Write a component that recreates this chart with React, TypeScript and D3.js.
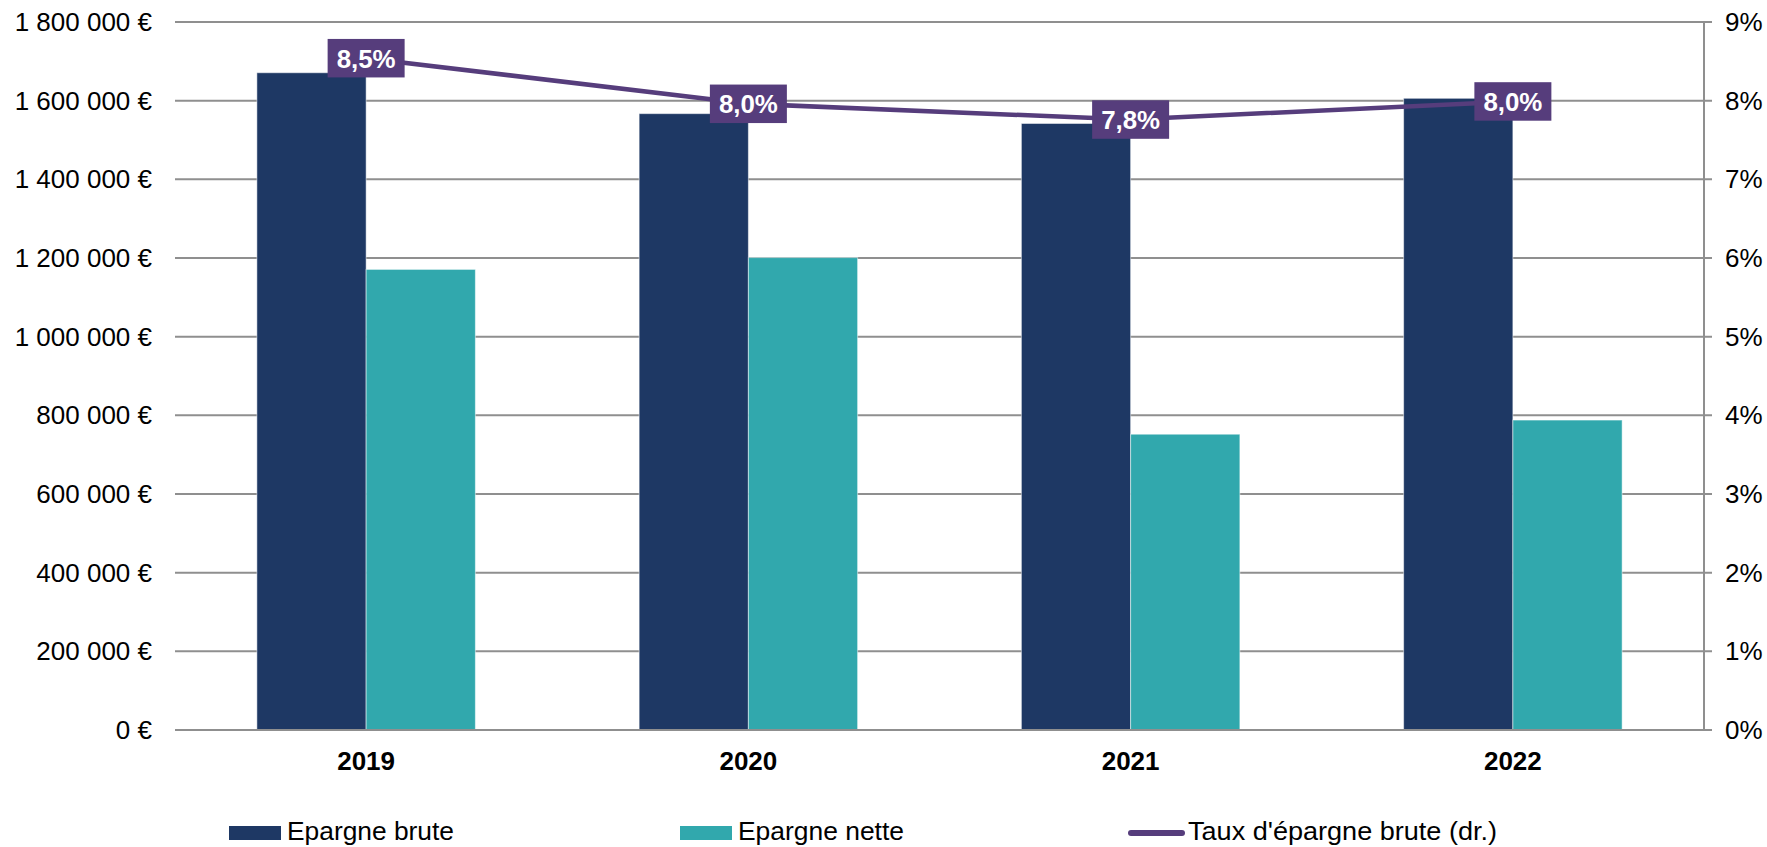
import React from "react";
import * as d3 from "d3";

const categories = ["2019", "2020", "2021", "2022"];
const epargneBrute = [1671000, 1567000, 1542000, 1606000];
const epargneNette = [1171000, 1201000, 752000, 788000];
const tauxBrute = [8.54, 7.96, 7.76, 7.99];
const leftTicks = [0, 200000, 400000, 600000, 800000, 1000000, 1200000, 1400000, 1600000, 1800000];
const rightTicks = [0, 1, 2, 3, 4, 5, 6, 7, 8, 9];
const legendLabels = ["Epargne brute", "Epargne nette", "Taux d'épargne brute (dr.)"];

const W = 1767;
const H = 847;
const FONT = "'Liberation Sans', Arial, sans-serif";
const C_BRUTE = "#1e3864";
const C_NETTE = "#31a8ad";
const C_LINE = "#563d7c";
const C_GRID = "#8f8f8f";

function fmtEuro(v: number) {
  const s = d3.format(",")(v).replace(/,/g, " ");
  return s + " €";
}

export default function App() {
  const left = 175;
  const right = 1704;
  const top = 22;
  const bottom = 730;

  const x0 = d3.scaleBand<string>().domain(categories).range([left, right]).padding(0);
  const bw = x0.bandwidth();
  const group = bw * 0.5716;
  const x1 = d3
    .scaleBand<string>()
    .domain(["brute", "nette"])
    .range([(bw - group) / 2, (bw + group) / 2])
    .padding(0);
  const y = d3.scaleLinear().domain([0, 1800000]).range([bottom, top]);
  const yr = d3.scaleLinear().domain([0, 9]).range([bottom, top]);

  const pts: [number, number][] = categories.map((c, i) => [
    (x0(c) as number) + bw / 2,
    yr(tauxBrute[i]),
  ]);
  const line = d3.line()(pts) as string;

  const boxW = 77;
  const boxH = 38.5;

  return (
    <svg
      width={W}
      height={H}
      style={{ position: "absolute", left: 0, top: 0, background: "#fff" }}
      fontFamily={FONT}
    >
      <rect x={0} y={0} width={W} height={H} fill="#fff" />
      {leftTicks.map((t) => (
        <line
          key={"g" + t}
          x1={left}
          x2={right + 8}
          y1={y(t)}
          y2={y(t)}
          stroke={C_GRID}
          strokeWidth={2}
        />
      ))}
      <line x1={right} x2={right} y1={top} y2={bottom} stroke={C_GRID} strokeWidth={2} />
      {leftTicks.map((t) => (
        <text
          key={"l" + t}
          x={152}
          y={y(t)}
          dy="0.35em"
          textAnchor="end"
          fontSize={26}
          fill="#000"
        >
          {fmtEuro(t)}
        </text>
      ))}
      {rightTicks.map((t) => (
        <text key={"r" + t} x={1725} y={yr(t)} dy="0.35em" fontSize={26} fill="#000">
          {t + "%"}
        </text>
      ))}
      {categories.map((c, i) => (
        <g key={"b" + c} transform={`translate(${x0(c)},0)`}>
          <rect
            x={x1("brute")}
            y={y(epargneBrute[i])}
            width={x1.bandwidth()}
            height={bottom - y(epargneBrute[i])}
            fill={C_BRUTE}
            stroke="#ffffff"
            strokeOpacity={0.5}
            strokeWidth={1}
          />
          <rect
            x={x1("nette")}
            y={y(epargneNette[i])}
            width={x1.bandwidth()}
            height={bottom - y(epargneNette[i])}
            fill={C_NETTE}
            stroke="#ffffff"
            strokeOpacity={0.5}
            strokeWidth={1}
          />
        </g>
      ))}
      <line x1={left} x2={right + 8} y1={bottom} y2={bottom} stroke={C_GRID} strokeWidth={2} />
      {categories.map((c) => (
        <text
          key={"c" + c}
          x={(x0(c) as number) + bw / 2}
          y={770}
          textAnchor="middle"
          fontSize={26}
          fontWeight="bold"
          fill="#000"
        >
          {c}
        </text>
      ))}
      <path d={line} fill="none" stroke={C_LINE} strokeWidth={4.5} strokeLinejoin="round" />
      {pts.map((p, i) => (
        <g key={"lab" + i}>
          <rect x={p[0] - boxW / 2} y={p[1] - boxH / 2} width={boxW} height={boxH} fill={C_LINE} />
          <text
            x={p[0]}
            y={p[1]}
            dy="0.36em"
            textAnchor="middle"
            fontSize={26}
            fontWeight="bold"
            fill="#fff"
            textLength={59}
            lengthAdjust="spacingAndGlyphs"
          >
            {tauxBrute[i].toFixed(1).replace(".", ",") + "%"}
          </text>
        </g>
      ))}
      <rect x={229} y={826} width={52} height={14} fill={C_BRUTE} />
      <text x={287} y={840} fontSize={26} fill="#000" textLength={167} lengthAdjust="spacingAndGlyphs">
        {legendLabels[0]}
      </text>
      <rect x={680} y={826} width={52} height={14} fill={C_NETTE} />
      <text x={738} y={840} fontSize={26} fill="#000" textLength={166} lengthAdjust="spacingAndGlyphs">
        {legendLabels[1]}
      </text>
      <line x1={1131} x2={1182} y1={833} y2={833} stroke={C_LINE} strokeWidth={6} strokeLinecap="round" />
      <text x={1188} y={840} fontSize={26} fill="#000" textLength={309} lengthAdjust="spacingAndGlyphs">
        {legendLabels[2]}
      </text>
    </svg>
  );
}
